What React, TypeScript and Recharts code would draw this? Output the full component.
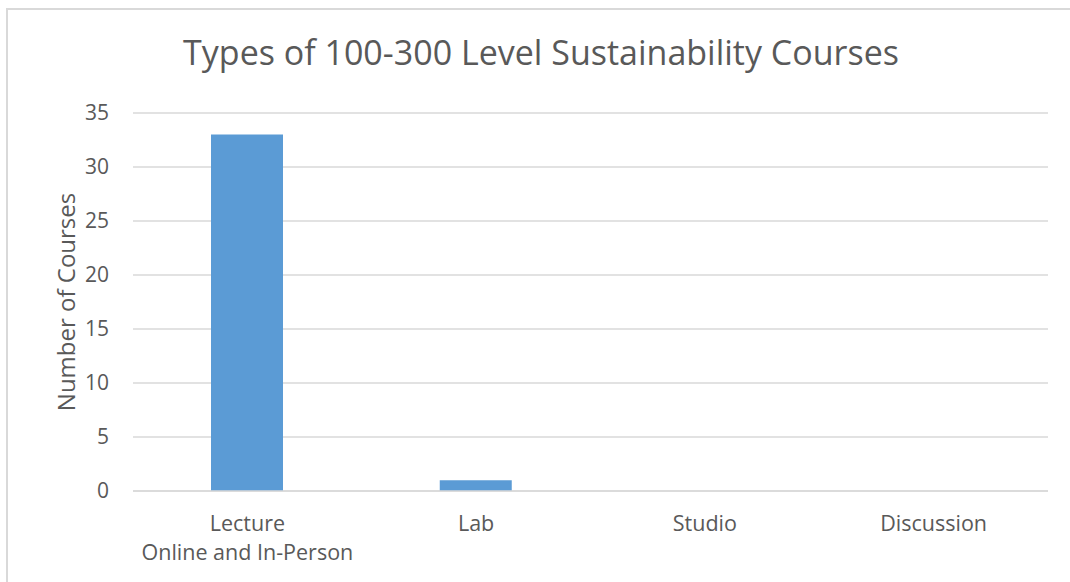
import {BarChart, Bar, XAxis, YAxis, CartesianGrid} from 'recharts';

const categories = ['Lecture\nOnline and In-Person', 'Lab', 'Studio', 'Discussion'];
const courseCounts = [33, 1, 0, 0];
const yTicks = [0, 5, 10, 15, 20, 25, 30, 35];

const data = categories.map((name, i) => ({name, value: courseCounts[i]}));

const FONT = '"Open Sans", sans-serif';
const TEXT = '#595959';
const GRID = '#d9d9d9';

const CategoryTick = ({x, y, payload}: any) => {
    const lines = String(payload.value).split('\n');
    return (
        <text x={x} y={y} textAnchor="middle" fill={TEXT} fontSize={21.5} fontFamily={FONT}>
            {lines.map((line, i) => (
                <tspan key={i} x={x} dy={i === 0 ? 40 : 29}>{line}</tspan>
            ))}
        </text>
    );
};

const YTitle = ({viewBox}: any) => {
    const cy = viewBox.y + viewBox.height / 2;
    return (
        <text x={75} y={cy} transform={`rotate(-90, 75, ${cy})`} textAnchor="middle"
              fill={TEXT} fontSize={24} fontFamily={FONT}>
            Number of Courses
        </text>
    );
};

export default function App() {
    return (
        <div style={{position: 'absolute', left: 0, top: 0, width: 1070, height: 582, background: '#fff', overflow: 'hidden'}}>
            <div style={{position: 'absolute', left: 6, top: 8, width: 1070, height: 580, border: '2px solid #d9d9d9', boxSizing: 'border-box'}}/>
            <div style={{position: 'absolute', left: 0, top: 0}}>
                <BarChart width={1070} height={582} data={data}
                          margin={{top: 113, right: 22, bottom: 31, left: 0}}>
                    <text x={541} y={65} textAnchor="middle" fill={TEXT} fontSize={34} fontFamily={FONT}>
                        Types of 100-300 Level Sustainability Courses
                    </text>
                    <CartesianGrid vertical={false} stroke={GRID} strokeWidth={1.5}/>
                    <XAxis dataKey="name" height={60} interval={0} tick={<CategoryTick/>}
                           tickSize={0} tickMargin={0}
                           axisLine={{stroke: GRID, strokeWidth: 1.5}} tickLine={false}/>
                    <YAxis width={133} domain={[0, 35]} ticks={yTicks} axisLine={false} tickLine={false}
                           tickSize={0} tickMargin={24}
                           tick={{fill: TEXT, fontSize: 21, fontFamily: FONT}}
                           label={{content: <YTitle/>}}/>
                    <Bar dataKey="value" fill="#5b9bd5" barSize={72} isAnimationActive={false}/>
                </BarChart>
            </div>
        </div>
    );
}
